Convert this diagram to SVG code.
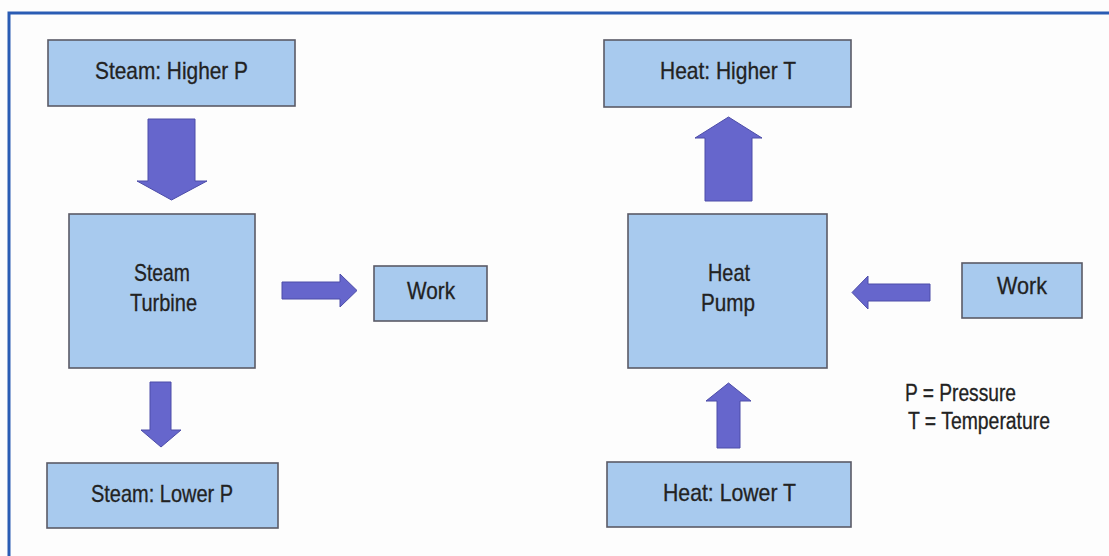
<svg xmlns="http://www.w3.org/2000/svg" width="1109" height="556" viewBox="0 0 1109 556">
<style>
.box{fill:#a8caee;stroke:#5a5a66;stroke-width:1.6}
.arr{fill:#6666cc;stroke:#4c4ca8;stroke-width:1}
text{font-family:"Liberation Sans",Arial,sans-serif;font-size:24px;fill:#222;stroke:#222;stroke-width:0.3}
</style>
<rect x="0" y="0" width="1109" height="556" fill="#fdfdfd"/>
<rect x="9" y="13" width="1200" height="600" fill="none" stroke="#2a5cb4" stroke-width="3"/>
<g id="connectors">
<polygon class="arr" points="148,119 195,119 195,181 207,181 171.5,200 137,181 148,181"/>
<polygon class="arr" points="282,282 340,282 340,274 357,290.5 340,307 340,299 282,299"/>
<polygon class="arr" points="150,382 171,382 171,430 181,430 161,447 141,430 150,430"/>
<polygon class="arr" points="705,201 752,201 752,138 762,138 728.5,117 695,138 705,138"/>
<polygon class="arr" points="930,284 868,284 868,276 852,292.5 868,309 868,301 930,301"/>
<polygon class="arr" points="717,448 740,448 740,401 751,401 728.5,383 706,401 717,401"/>
</g>
<g id="steam-higher">
<rect class="box" x="48" y="40" width="247" height="66"/>
<text x="171.5" y="79" text-anchor="middle" textLength="153" lengthAdjust="spacingAndGlyphs">Steam: Higher P</text>
</g>
<g id="steam-turbine">
<rect class="box" x="69" y="214" width="186" height="154"/>
<text x="162" y="281" text-anchor="middle" textLength="56" lengthAdjust="spacingAndGlyphs">Steam</text>
<text x="163.5" y="311" text-anchor="middle" textLength="67" lengthAdjust="spacingAndGlyphs">Turbine</text>
</g>
<g id="work-left">
<rect class="box" x="374" y="266" width="113" height="55"/>
<text x="431" y="299" text-anchor="middle" textLength="48" lengthAdjust="spacingAndGlyphs">Work</text>
</g>
<g id="steam-lower">
<rect class="box" x="47" y="463" width="231" height="65"/>
<text x="162" y="502" text-anchor="middle" textLength="142" lengthAdjust="spacingAndGlyphs">Steam: Lower P</text>
</g>
<g id="heat-higher">
<rect class="box" x="604" y="40" width="247" height="67"/>
<text x="728" y="79" text-anchor="middle" textLength="136" lengthAdjust="spacingAndGlyphs">Heat: Higher T</text>
</g>
<g id="heat-pump">
<rect class="box" x="628" y="214" width="199" height="154"/>
<text x="729" y="281" text-anchor="middle" textLength="42" lengthAdjust="spacingAndGlyphs">Heat</text>
<text x="728" y="311" text-anchor="middle" textLength="54" lengthAdjust="spacingAndGlyphs">Pump</text>
</g>
<g id="work-right">
<rect class="box" x="962" y="263" width="120" height="55"/>
<text x="1022" y="294" text-anchor="middle" textLength="50" lengthAdjust="spacingAndGlyphs">Work</text>
</g>
<g id="heat-lower">
<rect class="box" x="607" y="462" width="244" height="65"/>
<text x="729.5" y="501" text-anchor="middle" textLength="133" lengthAdjust="spacingAndGlyphs">Heat: Lower T</text>
</g>
<g id="legend">
<text x="905" y="401" textLength="111" lengthAdjust="spacingAndGlyphs" style="font-size:23px">P = Pressure</text>
<text x="908" y="429" textLength="142" lengthAdjust="spacingAndGlyphs" style="font-size:23px">T = Temperature</text>
</g>
</svg>
